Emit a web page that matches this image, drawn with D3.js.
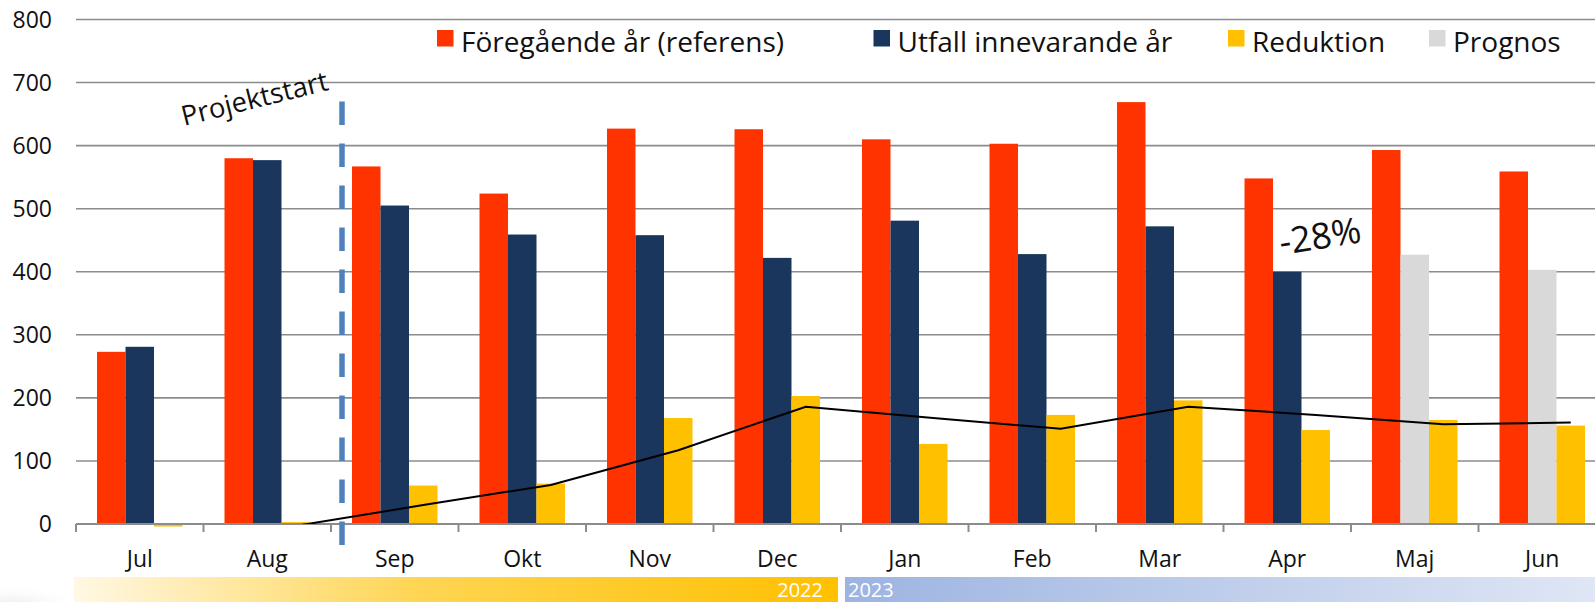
<!DOCTYPE html>
<meta charset="utf-8">
<style>
body { margin: 0; background: #fff; }
text { font-family: 'Open Sans', sans-serif; }
</style>
<body>
<script src="https://cdn.jsdelivr.net/npm/d3@7"></script>
<script>

	var months = ["Jul", "Aug", "Sep", "Okt", "Nov", "Dec", "Jan", "Feb", "Mar", "Apr", "Maj", "Jun"];

	var reference = [273, 580, 567, 524, 627, 626, 610, 603, 669, 548, 593, 559];   // Föregående år (referens)
	var outcome   = [281, 577, 505, 459, 458, 422, 481, 428, 472, 400, null, null]; // Utfall innevarande år
	var forecast  = [null, null, null, null, null, null, null, null, null, null, 427, 403]; // Prognos
	var reduction = [-4, 3, 61, 64, 168, 203, 127, 173, 196, 149, 165, 156];       // Reduktion
	var trend     = [null, -3, 30, 62, 117, 186, 168, 151, 186, 173, 158, 161];

	var yTicks = [0, 100, 200, 300, 400, 500, 600, 700, 800];

	var seriesNames = ["Föregående år (referens)", "Utfall innevarande år", "Reduktion", "Prognos"];
	var colours = ["#ff3300", "#1a365d", "#ffc000", "#d9d9d9"];

	var years = ["2022", "2023"];
	var startMonth = "Sep";      // Projektstart
	var startLabel = "Projektstart";
	var noteMonth = "Apr";
	var noteLabel = "-28%";

	var width = 1595,
		height = 602;

	var plotLeft = 76,
		bandWidth = 127.5,
		plotBottom = 524,
		plotTop = 19.5;

	var gridColour = "#8c8c8c";

	var svg = d3.select("body").append("svg")
		.attr("width", width)
		.attr("height", height);

	var x = d3.scaleBand()
		.domain(months)
		.range([plotLeft, plotLeft + bandWidth * months.length]);

	var slot = d3.scaleBand()
		.domain(["ref", "cur", "red"])
		.range([0, x.bandwidth()])
		.paddingOuter(0.737);

	var y = d3.scaleLinear()
		.domain([0, 800])
		.range([plotBottom, plotTop]);

	var defs = svg.append("defs");

	var gy = defs.append("linearGradient").attr("id", "gYellow");
	gy.append("stop").attr("offset", "0%").attr("stop-color", "#fff8e4");
	gy.append("stop").attr("offset", "45%").attr("stop-color", "#ffd553");
	gy.append("stop").attr("offset", "100%").attr("stop-color", "#ffc000");

	var gb = defs.append("linearGradient").attr("id", "gBlue");
	gb.append("stop").attr("offset", "0%").attr("stop-color", "#9db4e1");
	gb.append("stop").attr("offset", "100%").attr("stop-color", "#dfe6f5");

	var gs = defs.append("radialGradient").attr("id", "gSwoosh");
	gs.append("stop").attr("offset", "0%").attr("stop-color", "#dcdcdc");
	gs.append("stop").attr("offset", "100%").attr("stop-color", "#ffffff").attr("stop-opacity", 0);

	defs.append("clipPath").attr("id", "plotClip")
		.append("rect")
		.attr("x", plotLeft).attr("y", 0)
		.attr("width", width - plotLeft).attr("height", plotBottom);

	// faint grey swoosh bottom left
	svg.append("ellipse")
		.attr("cx", 10).attr("cy", 612)
		.attr("rx", 75).attr("ry", 28)
		.attr("fill", "url(#gSwoosh)");

	// gridlines
	svg.append("g")
		.selectAll("line")
		.data(yTicks.filter(function(d) { return d > 0; }))
		.enter().append("line")
			.attr("x1", plotLeft).attr("x2", width)
			.attr("y1", function(d) { return y(d); })
			.attr("y2", function(d) { return y(d); })
			.style("stroke", gridColour)
			.style("stroke-width", 1.6);

	// y labels
	svg.append("g")
		.selectAll("text")
		.data(yTicks)
		.enter().append("text")
			.attr("x", 52)
			.attr("y", function(d) { return y(d); })
			.attr("dy", "0.36em")
			.attr("text-anchor", "end")
			.style("font-size", "23px")
			.style("fill", "#111")
			.text(function(d) { return d; });

	// bars
	var bars = [];
	months.forEach(function(m, i) {
		bars.push({ m: m, s: "ref", v: reference[i], c: colours[0] });
		if (outcome[i] != null) bars.push({ m: m, s: "cur", v: outcome[i], c: colours[1] });
		if (forecast[i] != null) bars.push({ m: m, s: "cur", v: forecast[i], c: colours[3] });
		bars.push({ m: m, s: "red", v: reduction[i], c: colours[2] });
	});

	svg.append("g")
		.selectAll("rect")
		.data(bars)
		.enter().append("rect")
			.attr("x", function(d) { return x(d.m) + slot(d.s); })
			.attr("width", slot.bandwidth())
			.attr("y", function(d) { return y(Math.max(0, d.v)); })
			.attr("height", function(d) { return Math.abs(y(d.v) - y(0)); })
			.attr("fill", function(d) { return d.c; });

	// x axis line and ticks
	svg.append("line")
		.attr("x1", plotLeft).attr("x2", width)
		.attr("y1", y(0)).attr("y2", y(0))
		.style("stroke", gridColour)
		.style("stroke-width", 2);

	svg.append("g")
		.selectAll("line")
		.data(months)
		.enter().append("line")
			.attr("x1", function(d) { return x(d); })
			.attr("x2", function(d) { return x(d); })
			.attr("y1", y(0)).attr("y2", y(0) + 8)
			.style("stroke", gridColour)
			.style("stroke-width", 2);

	svg.append("g")
		.selectAll("text")
		.data(months)
		.enter().append("text")
			.attr("x", function(d) { return x(d) + x.bandwidth() / 2; })
			.attr("y", 566.5)
			.attr("text-anchor", "middle")
			.style("font-size", "23px")
			.style("fill", "#111")
			.text(function(d) { return d; });

	// trend line
	var line = d3.line()
		.defined(function(d) { return d != null; })
		.x(function(d, i) { return x(months[i]) + slot("red") + slot.bandwidth() / 2; })
		.y(function(d) { return y(d); });

	svg.append("path")
		.datum(trend)
		.attr("clip-path", "url(#plotClip)")
		.attr("d", line)
		.attr("fill", "none")
		.style("stroke", "#000")
		.style("stroke-width", 2);

	// Projektstart marker
	var startX = x(startMonth) + 11;
	svg.append("line")
		.attr("x1", startX).attr("x2", startX)
		.attr("y1", y(670)).attr("y2", y(0) + 21)
		.style("stroke", "#4f81bd")
		.style("stroke-width", 5.5)
		.style("stroke-dasharray", "23.5,18.5");

	svg.append("text")
		.attr("transform", "translate(" + (x(startMonth) - 147) + ",126) rotate(-14)")
		.style("font-size", "27.5px")
		.style("fill", "#111")
		.text(startLabel);

	svg.append("text")
		.attr("transform", "translate(" + (x(noteMonth) + x.bandwidth() / 2 - 6) + ",255) rotate(-9)")
		.style("font-size", "36px")
		.style("fill", "#111")
		.text(noteLabel);

	// legend
	var legendX = [437, 873.5, 1228, 1429];
	var legend = svg.append("g")
		.selectAll("g")
		.data(seriesNames)
		.enter().append("g")
			.attr("transform", function(d, i) { return "translate(" + legendX[i] + ",0)"; });

	legend.append("rect")
		.attr("x", 0).attr("y", 30)
		.attr("width", 16.5).attr("height", 16.5)
		.attr("fill", function(d, i) { return colours[i]; });

	legend.append("text")
		.attr("x", 24).attr("y", 52)
		.style("font-size", "28px")
		.style("fill", "#111")
		.text(function(d) { return d; });

	// year bands
	var splitX = x("Jan");
	var bandY = 577;
	svg.append("rect")
		.attr("x", plotLeft - 2).attr("y", bandY)
		.attr("width", splitX - 3 - (plotLeft - 2)).attr("height", height - bandY)
		.attr("fill", "url(#gYellow)");

	svg.append("rect")
		.attr("x", splitX + 4).attr("y", bandY)
		.attr("width", width - splitX - 4).attr("height", height - bandY)
		.attr("fill", "url(#gBlue)");

	svg.append("text")
		.attr("x", splitX - 18).attr("y", 597)
		.attr("text-anchor", "end")
		.style("font-size", "20px")
		.style("fill", "#fff")
		.text(years[0]);

	svg.append("text")
		.attr("x", splitX + 7).attr("y", 597)
		.style("font-size", "20px")
		.style("fill", "#fff")
		.text(years[1]);

</script>
</body>
